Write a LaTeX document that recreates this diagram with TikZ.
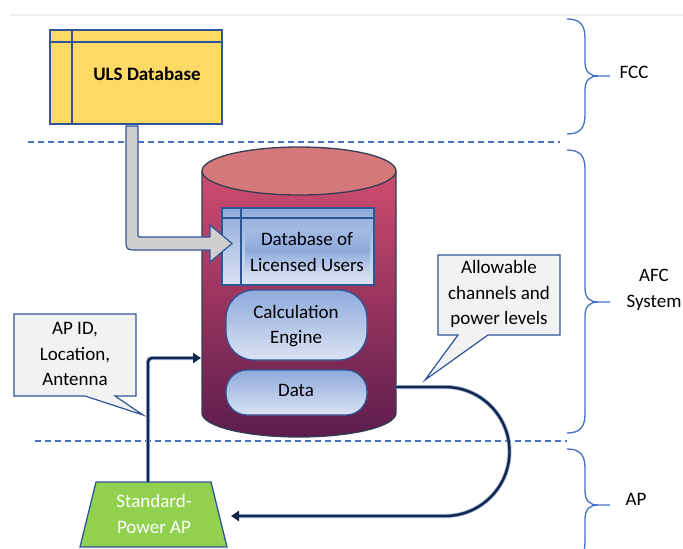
\documentclass[tikz,border=0pt]{standalone}
\usepackage{fontspec}
\setmainfont{Carlito}
\usetikzlibrary{arrows.meta}
\definecolor{dblue}{HTML}{4472C4}
\definecolor{bblue}{HTML}{4472C4}
\definecolor{edgeblue}{HTML}{2F5597}
\definecolor{ulsfill}{HTML}{FFD966}
\definecolor{cyltop}{HTML}{CF4C70}
\definecolor{cylbot}{HTML}{5C1C4C}
\definecolor{cylcap}{HTML}{D5787C}
\definecolor{cyledge}{HTML}{333F50}
\definecolor{lbtop}{HTML}{8FAADC}
\definecolor{lbbot}{HTML}{DAE3F3}
\definecolor{navy}{HTML}{14264A}
\definecolor{callfill}{HTML}{F2F2F2}
\definecolor{apgreen}{HTML}{92D050}
\definecolor{arrgray}{HTML}{D0CECE}
\begin{document}
\begin{tikzpicture}[x=1pt,y=-1pt,
  font=\fontsize{19}{25.5}\selectfont,
  lbl/.style={align=center, inner sep=0pt},
  dashline/.style={draw=dblue, dash pattern=on 6pt off 4pt, line width=1.2pt},
  brc/.style={draw=bblue, line width=1.3pt},
  edgebox/.style={draw=edgeblue, line width=1.3pt},
  bluefill/.style={edgebox, top color=lbtop, bottom color=lbbot},
  glow/.style={draw=lbtop, line width=4pt},
  conn/.style={draw=navy, line width=2.4pt, -{Triangle[length=8pt,width=10pt]}},
  callout/.style={draw=edgeblue, fill=callfill, line width=1.2pt}]
\useasboundingbox (0,0) rectangle (683,549);
\fill[white] (0,0) rectangle (683,549);
% top faint line
\draw[black!7, line width=2pt] (10,15) -- (683,15);

% separators
\draw[dashline] (28,142) -- (560,142);
\draw[dashline] (35,441) -- (567,441);

% braces
\draw[brc] (567,19) .. controls (580,19) and (585,25) .. (585,38) -- (585,62)
  .. controls (585,72) and (590,76) .. (598,76) -- (610,76);
\draw[brc] (598,76) .. controls (590,76) and (585,80) .. (585,90) -- (585,115)
  .. controls (585,128) and (580,134) .. (567,134);
\draw[brc] (567,150) .. controls (580,150) and (585,156) .. (585,169) -- (585,288)
  .. controls (585,298) and (590,302) .. (598,302) -- (610,302);
\draw[brc] (598,302) .. controls (590,302) and (585,306) .. (585,316) -- (585,414)
  .. controls (585,427) and (580,433) .. (567,433);
\draw[brc] (567,449) .. controls (580,449) and (585,455) .. (585,468) -- (585,491)
  .. controls (585,501) and (590,505) .. (598,505) -- (610,505);
\draw[brc] (598,505) .. controls (590,505) and (585,509) .. (585,519) -- (585,542)
  .. controls (585,555) and (580,561) .. (567,561);
\node[lbl] (fcc) at (634,72) {FCC};
\node[lbl] (afc) at (654,290) {AFC\\System};
\node[lbl] (ap) at (636,499) {AP};

% ULS Database
\draw[edgebox, fill=ulsfill] (50,30) rectangle (222,124);
\draw[edgebox] (50,42) -- (222,42) (72,30) -- (72,124);
\node[lbl, font=\fontsize{19}{25.5}\selectfont\bfseries] (uls) at (147,74) {ULS Database};
\coordinate (ulsout) at (132,124);

% cylinder
\shade[top color=cyltop, bottom color=cylbot] (202,171) -- (202,413)
  arc[start angle=180, end angle=360, x radius=97pt, y radius=24pt] -- (396,171) -- cycle;
\draw[cyledge, line width=1.3pt] (202,171) -- (202,413)
  arc[start angle=180, end angle=360, x radius=97pt, y radius=24pt] -- (396,171);
\draw[cyledge, line width=1.3pt, fill=cylcap] (299,171) ellipse[x radius=97pt, y radius=24pt];
\coordinate (cylin) at (201,358);
\coordinate (cylout) at (396,387);

% Database of Licensed Users
\draw[bluefill] (222,208) rectangle (374,285);
\shade[top color=lbtop!80!white, bottom color=lbtop!45!white, middle color=lbtop] (245,228) rectangle (370,273);
\draw[edgebox] (222,218) -- (374,218) (241,208) -- (241,285);
\node[lbl] (dblu) at (307,252) {Database of\\Licensed Users};
\coordinate (dbin) at (232,243.5);

% Calculation engine and data
\draw[bluefill, rounded corners=28pt] (226,290) rectangle (367,360);
\node[lbl] (calc) at (296,326) {Calculation\\Engine};
\draw[bluefill, rounded corners=21pt] (226,370) rectangle (367,415);
\node[lbl] (data) at (296,390) {Data};

% gray fat arrow from ULS to DB
\draw[edgebox, fill=arrgray, line width=1.2pt] (126,126) -- (138,126) -- (138,233)
  .. controls (138,237) .. (142,237) -- (210,237) -- (210,225) -- (dbin)
  -- (210,262) -- (210,250) -- (138,250) .. controls (126,250) .. (126,238) -- cycle;

% callouts
\draw[callout] (14,314) -- (136,314) -- (136,396) -- (115,396) -- (143,415)
  -- (85,396) -- (14,396) -- cycle;
\node[lbl] (apid) at (75,354) {AP ID,\\Location,\\Antenna};
\draw[callout] (438,255) -- (560,255) -- (560,335) -- (488,335) -- (425,380)
  -- (458,335) -- (438,335) -- cycle;
\node[lbl] (allow) at (499,294) {Allowable\\channels and\\power levels};

% Standard-Power AP
\draw[edgebox, fill=apgreen] (96,482) -- (211,482) -- (227,547) -- (80,547) -- cycle;
\node[lbl, text=white] (spap) at (154,514) {Standard-\\Power AP};
\coordinate (apout) at (148,482);
\coordinate (apin) at (231,516);

% connectors
\draw[glow, rounded corners=4pt] (apout) -- (148,358) -- (193,358);
\draw[conn, rounded corners=4pt] (apout) -- (148,358) -- (cylin);
\draw[glow] (cylout) -- (445,387) arc[start angle=90, end angle=-90, radius=64.5pt] -- (239,516);
\draw[conn] (cylout) -- (445,387) arc[start angle=90, end angle=-90, radius=64.5pt] -- (apin);
\end{tikzpicture}
\end{document}
